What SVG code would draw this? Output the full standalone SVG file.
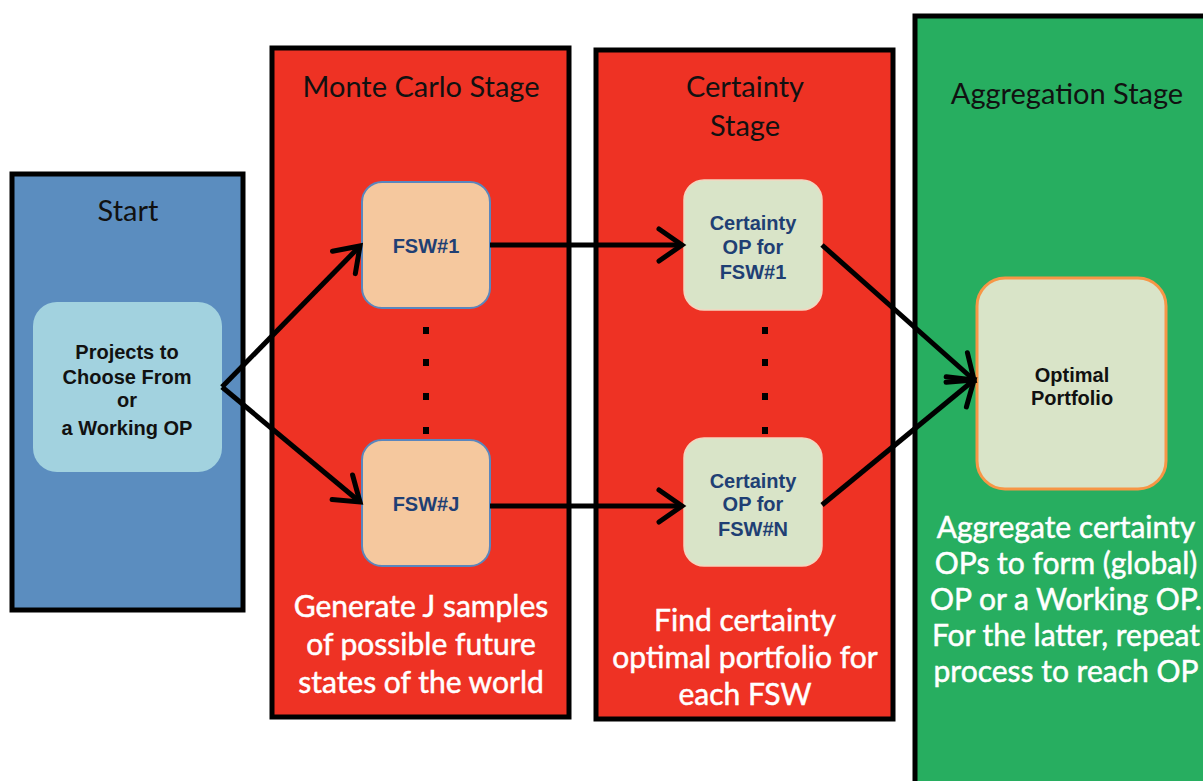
<svg xmlns="http://www.w3.org/2000/svg" width="1203" height="781" viewBox="0 0 1203 781">
<style>
.panel{stroke:#000;stroke-width:5}
.title{font-family:Lato,"Open Sans",sans-serif;font-size:29px;fill:#111;text-anchor:middle}
.desc{font-family:Lato,"Open Sans",sans-serif;font-size:30px;fill:#fff;stroke:#fff;stroke-width:0.5;text-anchor:middle}
.node{font-family:"Liberation Sans",Arial,sans-serif;font-weight:bold;font-size:20px;text-anchor:middle}
.blue{fill:#1f3f74}
.dark{fill:#111}
.conn{stroke:#000;stroke-width:5;fill:none;marker-end:url(#arr)}
</style>
<defs>
<marker id="arr" markerWidth="10" markerHeight="12" refX="9" refY="6" orient="auto" markerUnits="userSpaceOnUse" viewBox="0 0 10 12" overflow="visible">
<path d="M-14,-10 L9,6 L-14,22" fill="none" stroke="#000" stroke-width="5" stroke-linecap="round" stroke-linejoin="miter"/>
</marker>
</defs>
<rect width="1203" height="781" fill="#fff"/>
<g id="start">
<rect class="panel" x="12" y="174" width="231" height="436" fill="#5b8dbf"/>
<text class="title" x="128" y="221">Start</text>
</g>
<g id="montecarlo">
<rect class="panel" x="272" y="48" width="297" height="669" fill="#ee3224"/>
<text class="title" x="421" y="97">Monte Carlo Stage</text>
<text class="desc"><tspan x="421" y="617">Generate J samples</tspan><tspan x="421" y="655">of possible future</tspan><tspan x="421" y="693">states of the world</tspan></text>
</g>
<g id="certainty">
<rect class="panel" x="596" y="50" width="297" height="669" fill="#ee3224"/>
<text class="title"><tspan x="745" y="97">Certainty</tspan><tspan x="745" y="136">Stage</tspan></text>
<text class="desc"><tspan x="745" y="631">Find certainty</tspan><tspan x="745" y="668">optimal portfolio for</tspan><tspan x="745" y="705">each FSW</tspan></text>
</g>
<g id="aggregation">
<rect class="panel" x="915" y="16" width="300" height="780" fill="#27ae60"/>
<text class="title" x="1067" y="104" font-size="28.5">Aggregation Stage</text>
<text class="desc"><tspan x="1066" y="538">Aggregate certainty</tspan><tspan x="1066" y="574">OPs to form (global)</tspan><tspan x="1066" y="610">OP or a Working OP.</tspan><tspan x="1066" y="646">For the latter, repeat</tspan><tspan x="1066" y="682">process to reach OP</tspan></text>
</g>
<g id="projects">
<rect x="33" y="302" width="189" height="170" rx="24" fill="#a2d2df"/>
<text class="node dark" font-size="21"><tspan x="127" y="359">Projects to</tspan><tspan x="127" y="384">Choose From</tspan><tspan x="127" y="407">or</tspan><tspan x="127" y="435">a Working OP</tspan></text>
</g>
<g id="fsw1">
<rect x="362" y="182" width="128" height="126" rx="20" fill="#f5c89e" stroke="#5a86bd" stroke-width="2"/>
<text class="node blue" x="426" y="253" font-size="19.5">FSW#1</text>
</g>
<g id="fswj">
<rect x="362" y="440" width="128" height="126" rx="20" fill="#f5c89e" stroke="#5a86bd" stroke-width="2"/>
<text class="node blue" x="426" y="511" font-size="19.5">FSW#J</text>
</g>
<g id="cop1">
<rect x="684" y="180" width="138" height="130" rx="20" fill="#d9e4c8" stroke="#f4d6c0" stroke-width="1.5"/>
<text class="node blue"><tspan x="753" y="230">Certainty</tspan><tspan x="753" y="254">OP for</tspan><tspan x="753" y="279">FSW#1</tspan></text>
</g>
<g id="copn">
<rect x="684" y="438" width="138" height="128" rx="20" fill="#d9e4c8" stroke="#f4d6c0" stroke-width="1.5"/>
<text class="node blue"><tspan x="753" y="488">Certainty</tspan><tspan x="753" y="511">OP for</tspan><tspan x="753" y="536">FSW#N</tspan></text>
</g>
<g id="optimal">
<rect x="977" y="278" width="189" height="211" rx="28" fill="#d9e4c8" stroke="#f79646" stroke-width="3"/>
<text class="node dark" font-size="20.5"><tspan x="1072" y="382">Optimal</tspan><tspan x="1072" y="405">Portfolio</tspan></text>
</g>
<g id="dots">
<rect x="423" y="327" width="6" height="7"/><rect x="423" y="359" width="6" height="7"/><rect x="423" y="393" width="6" height="7"/><rect x="423" y="427" width="6" height="7"/>
<rect x="762" y="327" width="6" height="7"/><rect x="762" y="359" width="6" height="7"/><rect x="762" y="393" width="6" height="7"/><rect x="762" y="427" width="6" height="7"/>
</g>
<g id="connectors">
<line class="conn" x1="222" y1="387" x2="360" y2="246"/>
<line class="conn" x1="222" y1="387" x2="360" y2="502"/>
<line class="conn" x1="490" y1="245" x2="682" y2="245"/>
<line class="conn" x1="490" y1="506" x2="682" y2="506"/>
<line class="conn" x1="822" y1="245" x2="974" y2="380"/>
<line class="conn" x1="822" y1="505" x2="974" y2="380"/>
</g>
</svg>
